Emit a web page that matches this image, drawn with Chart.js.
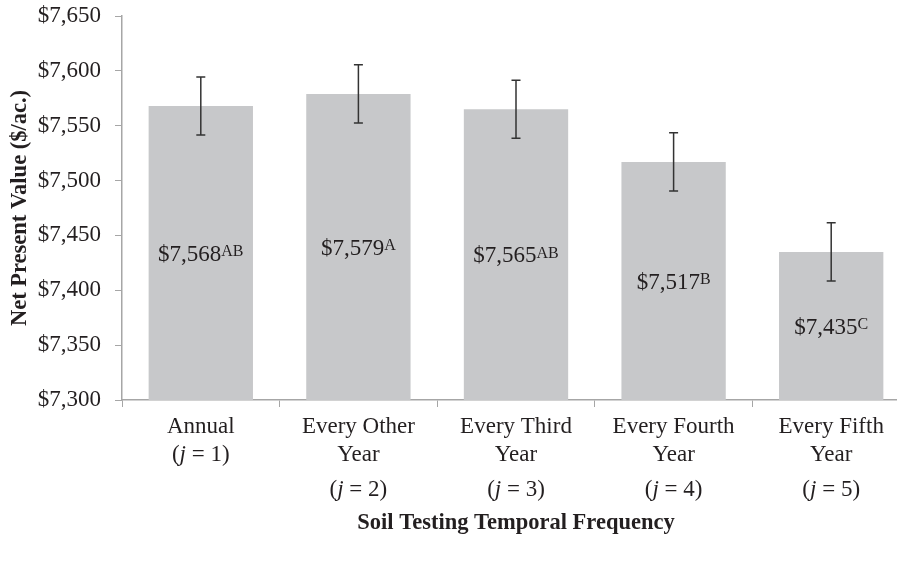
<!DOCTYPE html>
<html>
<head>
<meta charset="utf-8">
<script src="https://cdn.jsdelivr.net/npm/chart.js@4/dist/chart.umd.min.js"></script>
<style>
  html, body { margin: 0; padding: 0; background: #fff; overflow: hidden; }
  #wrap { width: 910px; height: 561px; }
</style>
</head>
<body>
<div id="wrap"><canvas id="npv-chart" width="910" height="561"></canvas></div>
<script>
const categories = [
  ['Annual', '(j = 1)'],
  ['Every Other', 'Year', '(j = 2)'],
  ['Every Third', 'Year', '(j = 3)'],
  ['Every Fourth', 'Year', '(j = 4)'],
  ['Every Fifth', 'Year', '(j = 5)']
]
const npvValues = [7568, 7579, 7565, 7517, 7435]
const npvErrors = [26.5, 26.5, 26.5, 26.5, 26.5]
const groupLetters = ['AB', 'A', 'AB', 'B', 'C']
const yTicks = [7300, 7350, 7400, 7450, 7500, 7550, 7600, 7650]

const FONT = "'Liberation Serif', 'Times New Roman', serif"
const TEXT = '#231f20'
const AXIS = '#a6a6a6'
const BAR = '#c7c8ca'
const SIZE = 23
const SUP = 16

const money = v => '$' + v.toLocaleString('en-US')

// error bars from the y scale
const errorBars = {
  id: 'errorBars',
  afterDatasetsDraw(chart) {
    const ctx = chart.ctx
    const y = chart.scales.y
    const x = chart.scales.x
    ctx.save()
    ctx.strokeStyle = '#333'
    ctx.lineWidth = 1.5
    npvValues.forEach((v, i) => {
      const cx = x.getPixelForValue(i)
      const top = y.getPixelForValue(v + npvErrors[i])
      const bot = y.getPixelForValue(v - npvErrors[i])
      ctx.beginPath()
      ctx.moveTo(cx, top); ctx.lineTo(cx, bot)
      ctx.moveTo(cx - 4.5, top); ctx.lineTo(cx + 4.5, top)
      ctx.moveTo(cx - 4.5, bot); ctx.lineTo(cx + 4.5, bot)
      ctx.stroke()
    })
    ctx.restore()
  }
}

// value labels with superscript letters, centred in each bar
const valueLabels = {
  id: 'valueLabels',
  afterDatasetsDraw(chart) {
    const ctx = chart.ctx
    const y = chart.scales.y
    const x = chart.scales.x
    ctx.save()
    ctx.fillStyle = TEXT
    ctx.textBaseline = 'alphabetic'
    ctx.textAlign = 'left'
    npvValues.forEach((v, i) => {
      const main = money(v)
      const sup = groupLetters[i]
      ctx.font = SIZE + 'px ' + FONT
      const w1 = ctx.measureText(main).width
      ctx.font = SUP + 'px ' + FONT
      const w2 = ctx.measureText(sup).width
      const x0 = x.getPixelForValue(i) - (w1 + w2) / 2
      const yMid = (y.getPixelForValue(v) + y.bottom) / 2
      const base = yMid + 0.33 * SIZE
      ctx.font = SIZE + 'px ' + FONT
      ctx.fillText(main, x0, base)
      ctx.font = SUP + 'px ' + FONT
      ctx.fillText(sup, x0 + w1, base - 0.662 * (SIZE - SUP))
    })
    ctx.restore()
  }
}

// category labels, italic j
const categoryLabels = {
  id: 'categoryLabels',
  afterDraw(chart) {
    const ctx = chart.ctx
    const x = chart.scales.x
    const lineY = [27, 55, 90]
    ctx.save()
    ctx.fillStyle = TEXT
    ctx.textBaseline = 'middle'
    ctx.textAlign = 'left'
    categories.forEach((lines, i) => {
      const cx = x.getPixelForValue(i)
      lines.forEach((line, k) => {
        const yy = x.top + lineY[k]
        const parts = line.startsWith('(j')
          ? [['(', false], ['j', true], [line.slice(2), false]]
          : [[line, false]]
        let total = 0
        parts.forEach(p => {
          ctx.font = (p[1] ? 'italic ' : '') + SIZE + 'px ' + FONT
          total += ctx.measureText(p[0]).width
        })
        let px = cx - total / 2
        parts.forEach(p => {
          ctx.font = (p[1] ? 'italic ' : '') + SIZE + 'px ' + FONT
          ctx.fillText(p[0], px, yy)
          px += ctx.measureText(p[0]).width
        })
      })
    })
    ctx.restore()
  }
}

const ctx = document.getElementById('npv-chart')

const config = {
  type: 'bar',
  data: {
    labels: categories.map(c => c.join(' ')),
    datasets: [{
      data: npvValues,
      backgroundColor: BAR,
      borderWidth: 0,
      barPercentage: 0.662,
      categoryPercentage: 1
    }]
  },
  options: {
    responsive: false,
    animation: false,
    layout: { padding: { left: 0, right: 0, top: 16, bottom: 0 } },
    plugins: {
      legend: { display: false },
      tooltip: { enabled: false }
    },
    scales: {
      x: {
        grid: { drawOnChartArea: false, drawTicks: true, tickLength: 7, color: AXIS, offset: true },
        border: { color: AXIS, width: 1.5 },
        ticks: { display: false },
        title: {
          display: true,
          text: 'Soil Testing Temporal Frequency',
          color: TEXT,
          font: { family: FONT, size: 22.5, weight: 'bold' },
          padding: { top: 0, bottom: 24.5 }
        },
        afterFit: s => { s.height = 161; s.paddingLeft = 0; s.paddingRight = 0 }
      },
      y: {
        min: yTicks[0],
        max: yTicks[yTicks.length - 1],
        afterBuildTicks: s => { s.ticks = yTicks.map(v => ({ value: v })) },
        grid: { drawOnChartArea: false, drawTicks: true, tickLength: 7, color: AXIS },
        border: { color: AXIS, width: 1.5 },
        ticks: {
          color: TEXT,
          padding: 14,
          font: { family: FONT, size: SIZE },
          callback: v => money(v)
        },
        title: {
          display: true,
          text: 'Net Present Value ($/ac.)',
          color: TEXT,
          font: { family: FONT, size: 22.5, weight: 'bold' },
          padding: { top: 7, bottom: 0 }
        },
        afterFit: s => { s.width = 122; s.paddingTop = 0; s.paddingBottom = 0 }
      }
    }
  },
  plugins: [errorBars, valueLabels, categoryLabels]
}

new Chart(ctx, config)
</script>
</body>
</html>
